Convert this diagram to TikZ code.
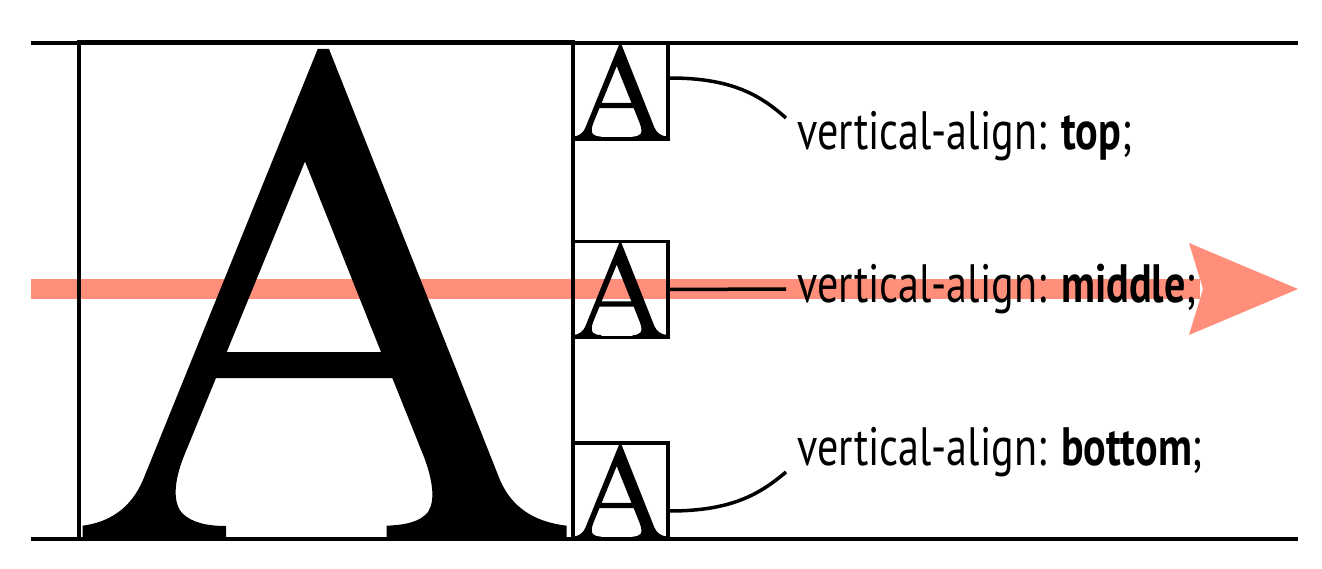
\documentclass[tikz,border=0pt]{standalone}
\usepackage{fontspec}
\setmainfont{PT Sans}[FakeStretch=0.78]
\usepackage{tikz}
\usetikzlibrary{positioning}
\definecolor{vasalmon}{RGB}{255,143,122}
\definecolor{vablack}{RGB}{0,0,0}
\newcommand{\glyphA}{%
  (238.7,7) -- (250,7) -- (421,438) .. controls (433,466) and (456,480) .. (487.7,483.7)
  -- (487.7,496.3) -- (307.7,496.3) -- (307.7,483.7)
  .. controls (326,483) and (341,480) .. (349,470) .. controls (357,458) and (353,436) .. (345,415)
  -- (313.3,336) -- (137,336) -- (105,414)
  .. controls (97,434) and (92,458) .. (103,471) .. controls (113,481) and (129,484) .. (147,484)
  -- (147,496.3) -- (3.7,496.3) -- (3.7,483.7)
  .. controls (31,480) and (52,466) .. (64,438) -- cycle
  (226,119.4) -- (302,310) -- (147.7,310) -- cycle}
\tikzset{
  abox/.style={draw=vablack,line width=3.5pt,minimum width=95pt,minimum height=96pt,inner sep=0pt},
  vlabel/.style={anchor=base west,inner sep=0pt,font=\fontsize{54}{60}\selectfont},
  conn/.style={vablack,line width=3.5pt}
}

\begin{document}
\begin{tikzpicture}[x=1pt,y=-1pt]
  \useasboundingbox (0,0) rectangle (1322,569);
  \begin{scope}
    \fill[vasalmon] (31,279) rectangle (1200,299);
    \fill[vasalmon] (1189,243) -- (1298,289) -- (1189,335) -- (1203,289) -- cycle;

    \draw[line width=3.5pt] (31,43) -- (1298,43);
    \draw[line width=3.5pt] (31,539) -- (1298,539);
    \draw[line width=3.5pt] (79,42) rectangle (573,539);

    \fill[even odd rule] [shift={(79,42)}] \glyphA;

    \foreach \y/\nm in {91/top,289.5/mid,491/bot}{
      \node[abox] (box\nm) at (620.5,\y) {};
      \fill[even odd rule] [shift={(573,\y-48)},scale=0.1935] \glyphA;
    }

    \node[vlabel] (labtop) at (797,150) {vertical-align: \textbf{top};};
    \node[vlabel] (labmid) at (797,302) {vertical-align: \textbf{middle};};
    \node[vlabel] (labbot) at (797,465) {vertical-align: \textbf{bottom};};

    \coordinate (tiptop) at (786,118);
    \coordinate (tipmid) at (786,289);
    \coordinate (tipbot) at (786,472);

    \draw[conn] ([yshift=13pt]boxtop.east) .. controls +(62,0) and +(-26,-23) .. (tiptop);
    \draw[conn] (boxmid.east) -- (tipmid);
    \draw[conn] ([yshift=-20pt]boxbot.east) .. controls +(62,0) and +(-26,22) .. (tipbot);
  \end{scope}
\end{tikzpicture}
\end{document}
